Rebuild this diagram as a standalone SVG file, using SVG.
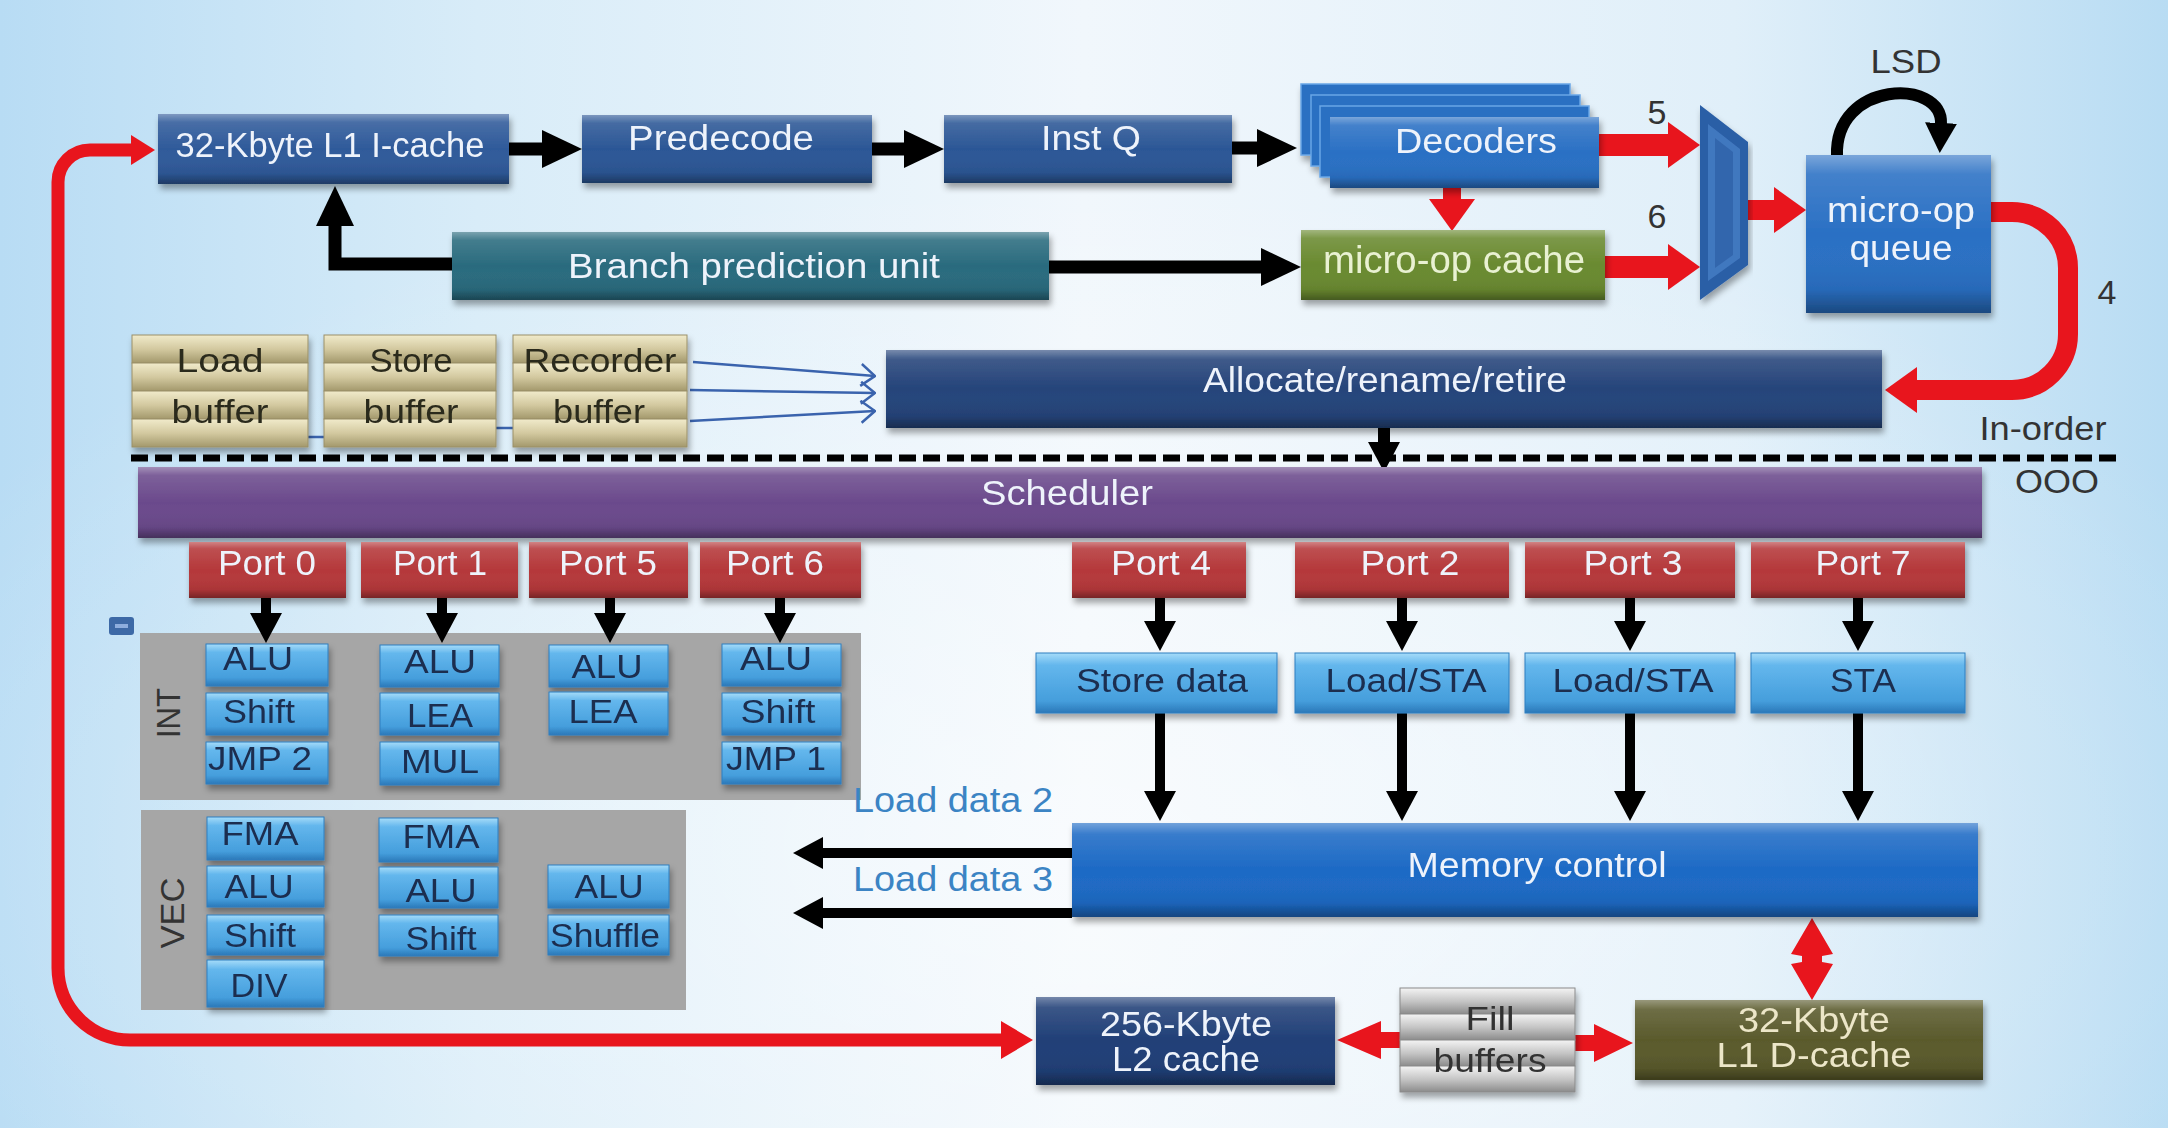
<svg xmlns="http://www.w3.org/2000/svg" width="2168" height="1128" viewBox="0 0 2168 1128">
<defs>
<style>
text{font-family:"Liberation Sans",Arial,Helvetica,sans-serif;}
.wt{fill:#eef3fb;text-anchor:middle;font-size:35px}
.cr{fill:#ece6c8;text-anchor:middle;font-size:35px}
.gt{fill:#e9f1d2;text-anchor:middle;font-size:38px}
.dk{fill:#1b2d50;text-anchor:middle;font-size:34px}
.bf{fill:#2b2a1c;text-anchor:middle;font-size:34px}
.lb{fill:#333;text-anchor:middle;font-size:34px}
.ld{fill:#3b84c4;font-size:35px}
.gl{fill:url(#gloss)}
.sh{filter:url(#shadow)}
.unit{fill:url(#unitG);stroke:#2f7fc0;stroke-width:1}
.port{fill:#b5383a}
.bar{fill:url(#tanG);stroke:#9a9068;stroke-width:1}
.gbar{fill:url(#grayG);stroke:#8a8a8a;stroke-width:1}
.panel{fill:#a6a6a6}
.bk{stroke:#000;fill:none;stroke-linejoin:miter}
.rd{stroke:#e8151d;fill:none}
.bl{stroke:#3a63ad;fill:none;stroke-width:2.5}
</style>
<linearGradient id="bgH" x1="0" y1="0" x2="1" y2="0">
<stop offset="0" stop-color="#b8dcf4"/>
<stop offset="0.22" stop-color="#d8ecf8"/>
<stop offset="0.5" stop-color="#f1f7fc"/>
<stop offset="0.8" stop-color="#e0eff9"/>
<stop offset="1" stop-color="#b8dcf3"/>
</linearGradient>
<radialGradient id="bgR" cx="0.5" cy="0.75" r="0.6">
<stop offset="0" stop-color="#ffffff" stop-opacity="0.55"/>
<stop offset="1" stop-color="#ffffff" stop-opacity="0"/>
</radialGradient>
<linearGradient id="gloss" x1="0" y1="0" x2="0" y2="1">
<stop offset="0" stop-color="#fff" stop-opacity="0.38"/>
<stop offset="0.12" stop-color="#fff" stop-opacity="0.12"/>
<stop offset="0.5" stop-color="#fff" stop-opacity="0"/>
<stop offset="0.85" stop-color="#000" stop-opacity="0.06"/>
<stop offset="1" stop-color="#000" stop-opacity="0.35"/>
</linearGradient>
<linearGradient id="unitG" x1="0" y1="0" x2="0" y2="1">
<stop offset="0" stop-color="#a6dcf9"/>
<stop offset="0.2" stop-color="#64b7ed"/>
<stop offset="0.8" stop-color="#459edc"/>
<stop offset="1" stop-color="#2b78b8"/>
</linearGradient>
<linearGradient id="tanG" x1="0" y1="0" x2="0" y2="1">
<stop offset="0" stop-color="#f1ebcb"/>
<stop offset="0.5" stop-color="#d3c9a0"/>
<stop offset="1" stop-color="#a3986c"/>
</linearGradient>
<linearGradient id="grayG" x1="0" y1="0" x2="0" y2="1">
<stop offset="0" stop-color="#f4f4f4"/>
<stop offset="0.5" stop-color="#c6c6c6"/>
<stop offset="1" stop-color="#8c8c8c"/>
</linearGradient>
<filter id="shadow" x="-10%" y="-20%" width="120%" height="150%">
<feDropShadow dx="2" dy="5" stdDeviation="3" flood-color="#000" flood-opacity="0.35"/>
</filter>
<marker id="ahB" viewBox="0 0 40 38" refX="1" refY="19" markerWidth="40" markerHeight="38" markerUnits="userSpaceOnUse" orient="auto"><path d="M0,0 L40,19 L0,38 z" fill="#000"/></marker>
<marker id="ahBs" viewBox="0 0 30 32" refX="1" refY="16" markerWidth="30" markerHeight="32" markerUnits="userSpaceOnUse" orient="auto"><path d="M0,0 L30,16 L0,32 z" fill="#000"/></marker>
<marker id="ahR" viewBox="0 0 32 46" refX="1" refY="23" markerWidth="32" markerHeight="46" markerUnits="userSpaceOnUse" orient="auto"><path d="M0,0 L32,23 L0,46 z" fill="#e8151d"/></marker>
<marker id="ahRm" viewBox="0 0 32 38" refX="1" refY="19" markerWidth="32" markerHeight="38" markerUnits="userSpaceOnUse" orient="auto-start-reverse"><path d="M0,0 L32,19 L0,38 z" fill="#e8151d"/></marker>
<marker id="ahRsm" viewBox="0 0 24 30" refX="1" refY="15" markerWidth="24" markerHeight="30" markerUnits="userSpaceOnUse" orient="auto"><path d="M0,0 L24,15 L0,30 z" fill="#e8151d"/></marker>
<marker id="ahBl" viewBox="0 0 16 24" refX="15" refY="12" markerWidth="16" markerHeight="24" markerUnits="userSpaceOnUse" orient="auto"><path d="M1,1 L15,12 L1,23" fill="none" stroke="#3a63ad" stroke-width="2.5"/></marker>
</defs>

<!-- background -->
<rect x="0" y="0" width="2168" height="1128" fill="url(#bgH)"/>
<rect x="0" y="0" width="2168" height="1128" fill="url(#bgR)"/>

<!-- gray panels -->
<g id="int-panel">
<rect class="panel" x="140" y="633" width="721" height="167"/>
<text class="lb" font-size="35" transform="translate(180,713) rotate(-90)" textLength="50" lengthAdjust="spacingAndGlyphs">INT</text>
</g>
<g id="vec-panel">
<rect class="panel" x="141" y="810" width="545" height="200"/>
<text class="lb" font-size="36" transform="translate(184,913) rotate(-90)" textLength="71" lengthAdjust="spacingAndGlyphs">VEC</text>
</g>
<g id="icon">
<rect x="109" y="617" width="25" height="18" rx="3" fill="#3d69a6"/>
<rect x="115" y="624" width="13" height="4" fill="#8eaede"/>
</g>

<!-- connectors -->
<g id="connectors">
<path class="bk" stroke-width="13" d="M509,149 L543,149" marker-end="url(#ahB)"/>
<path class="bk" stroke-width="13" d="M872,149 L905,149" marker-end="url(#ahB)"/>
<path class="bk" stroke-width="13" d="M1232,148 L1258,148" marker-end="url(#ahB)"/>
<path class="bk" stroke-width="13" d="M452,264 L335,264 L335,225" marker-end="url(#ahB)"/>
<path class="bk" stroke-width="13" d="M1049,267 L1262,267" marker-end="url(#ahB)"/>
<path class="rd" stroke-width="22" d="M1599,145 L1669,145" marker-end="url(#ahR)"/>
<path class="rd" stroke-width="22" d="M1605,267 L1669,267" marker-end="url(#ahR)"/>
<path class="rd" stroke-width="18" d="M1452,188 L1452,200" marker-end="url(#ahR)"/>
<path class="rd" stroke-width="20" d="M1748,210 L1775,210" marker-end="url(#ahR)"/>
<path class="rd" stroke-width="20" d="M1991,212 L2012,212 A56,56 0 0 1 2068,268 L2068,334 A56,56 0 0 1 2012,390 L1916,390" marker-end="url(#ahR)"/>
<path class="bk" stroke-width="12" d="M1837,156 C1834,80 1943,78 1941,124" marker-end="url(#ahBs)"/>
<path class="bl" d="M693,362 L875,376" marker-end="url(#ahBl)"/>
<path class="bl" d="M690,390 L875,393" marker-end="url(#ahBl)"/>
<path class="bl" d="M690,421 L875,411" marker-end="url(#ahBl)"/>
<path class="bl" d="M308,437 L324,437"/>
<path class="bl" d="M496,428 L513,428"/>
<path d="M131,458 L2122,458" stroke="#000" stroke-width="7" stroke-dasharray="17,7" fill="none"/>
<path class="bk" stroke-width="12" d="M1384,428 L1384,443" marker-end="url(#ahBs)"/>
<path class="bk" stroke-width="10" d="M266,598 L266,614" marker-end="url(#ahBs)"/>
<path class="bk" stroke-width="10" d="M442,598 L442,614" marker-end="url(#ahBs)"/>
<path class="bk" stroke-width="10" d="M610,598 L610,614" marker-end="url(#ahBs)"/>
<path class="bk" stroke-width="10" d="M780,598 L780,614" marker-end="url(#ahBs)"/>
<path class="bk" stroke-width="10" d="M1160,598 L1160,622" marker-end="url(#ahBs)"/>
<path class="bk" stroke-width="10" d="M1402,598 L1402,622" marker-end="url(#ahBs)"/>
<path class="bk" stroke-width="10" d="M1630,598 L1630,622" marker-end="url(#ahBs)"/>
<path class="bk" stroke-width="10" d="M1858,598 L1858,622" marker-end="url(#ahBs)"/>
<path class="bk" stroke-width="10" d="M1160,713 L1160,792" marker-end="url(#ahBs)"/>
<path class="bk" stroke-width="10" d="M1402,713 L1402,792" marker-end="url(#ahBs)"/>
<path class="bk" stroke-width="10" d="M1630,713 L1630,792" marker-end="url(#ahBs)"/>
<path class="bk" stroke-width="10" d="M1858,713 L1858,792" marker-end="url(#ahBs)"/>
<path class="bk" stroke-width="10" d="M1072,853 L822,853" marker-end="url(#ahBs)"/>
<path class="bk" stroke-width="10" d="M1072,913 L822,913" marker-end="url(#ahBs)"/>
<path class="rd" stroke-width="13" d="M1002,1040 L130,1040 A72,72 0 0 1 58,968 L58,182 A32,32 0 0 1 90,150 L132,150" marker-end="url(#ahRsm)" marker-start="url(#ahRm)"/>
<polygon fill="#e8151d" points="1337,1040 1381,1021 1381,1032 1400,1032 1400,1048 1381,1048 1381,1059"/>
<polygon fill="#e8151d" points="1633,1043 1594,1024 1594,1035 1575,1035 1575,1051 1594,1051 1594,1062"/>
<polygon fill="#e8151d" points="1812,918 1833,954 1822,956 1822,962 1833,964 1812,1000 1791,964 1802,962 1802,956 1791,954"/>
</g>

<!-- front end -->
<g id="l1-icache" class="sh">
<rect x="158" y="114" width="351" height="70" fill="#2f5a9a"/>
<rect class="gl" x="158" y="114" width="351" height="70"/>
<text class="wt" x="330" y="157" font-size="32" textLength="309" lengthAdjust="spacingAndGlyphs">32-Kbyte L1 I-cache</text>
</g>
<g id="predecode" class="sh">
<rect x="582" y="115" width="290" height="68" fill="#2c5796"/>
<rect class="gl" x="582" y="115" width="290" height="68"/>
<text class="wt" x="721" y="150" font-size="38" textLength="186" lengthAdjust="spacingAndGlyphs">Predecode</text>
</g>
<g id="inst-q" class="sh">
<rect x="944" y="115" width="288" height="68" fill="#2c5796"/>
<rect class="gl" x="944" y="115" width="288" height="68"/>
<text class="wt" x="1091" y="150" font-size="38" textLength="100" lengthAdjust="spacingAndGlyphs">Inst Q</text>
</g>
<g id="decoders" class="sh">
<rect x="1301" y="84" width="269" height="71" fill="#2a6fc2" stroke="#6aa6e6" stroke-width="1.5"/>
<rect x="1311" y="95" width="269" height="71" fill="#2a6fc2" stroke="#6aa6e6" stroke-width="1.5"/>
<rect x="1320" y="106" width="269" height="71" fill="#2a6fc2" stroke="#6aa6e6" stroke-width="1.5"/>
<rect x="1330" y="117" width="269" height="71" fill="#2a70c4"/>
<rect class="gl" x="1330" y="117" width="269" height="71"/>
<text class="wt" x="1476" y="153" font-size="36" fill="#dfeefc" textLength="162" lengthAdjust="spacingAndGlyphs">Decoders</text>
</g>
<g id="branch-prediction" class="sh">
<rect x="452" y="232" width="597" height="68" fill="#2a6b7e"/>
<rect class="gl" x="452" y="232" width="597" height="68"/>
<text class="wt" x="754" y="278" font-size="35" textLength="372" lengthAdjust="spacingAndGlyphs">Branch prediction unit</text>
</g>
<g id="micro-op-cache" class="sh">
<rect x="1301" y="230" width="304" height="70" fill="#6a8a30"/>
<rect class="gl" x="1301" y="230" width="304" height="70"/>
<text class="gt" x="1454" y="273" textLength="262" lengthAdjust="spacingAndGlyphs">micro-op cache</text>
</g>
<g id="mux" class="sh">
<polygon points="1700,105 1748,142 1748,265 1700,300" fill="#2a5ea6"/>
<polygon points="1708,124 1740,149 1740,258 1708,281" fill="#4178bf"/>
<polygon points="1715,138 1733,152 1733,255 1715,268" fill="#3366ad"/>
</g>
<g id="micro-op-queue" class="sh">
<rect x="1806" y="155" width="185" height="158" fill="#2a70c4"/>
<rect class="gl" x="1806" y="155" width="185" height="158"/>
<text class="wt" x="1901" y="222" font-size="38" textLength="148" lengthAdjust="spacingAndGlyphs">micro-op</text>
<text class="wt" x="1901" y="260" font-size="38" textLength="103" lengthAdjust="spacingAndGlyphs">queue</text>
</g>
<g id="labels-top">
<text class="lb" x="1906" y="73" font-size="32" textLength="71" lengthAdjust="spacingAndGlyphs">LSD</text>
<text class="lb" x="1657" y="124" font-size="32">5</text>
<text class="lb" x="1657" y="228" font-size="32">6</text>
<text class="lb" x="2107" y="304" font-size="34">4</text>
<text class="lb" x="2043" y="440" font-size="35" textLength="127" lengthAdjust="spacingAndGlyphs">In-order</text>
<text class="lb" x="2057" y="493" font-size="35" textLength="84" lengthAdjust="spacingAndGlyphs">OOO</text>
</g>

<!-- buffers -->
<g id="load-buffer" class="sh">
<rect class="bar" x="132" y="335" width="176" height="28"/>
<rect class="bar" x="132" y="363" width="176" height="28"/>
<rect class="bar" x="132" y="391" width="176" height="28"/>
<rect class="bar" x="132" y="419" width="176" height="28"/>
<text class="bf" x="220" y="372" textLength="87" lengthAdjust="spacingAndGlyphs">Load</text>
<text class="bf" x="220" y="423" textLength="97" lengthAdjust="spacingAndGlyphs">buffer</text>
</g>
<g id="store-buffer" class="sh">
<rect class="bar" x="324" y="335" width="172" height="28"/>
<rect class="bar" x="324" y="363" width="172" height="28"/>
<rect class="bar" x="324" y="391" width="172" height="28"/>
<rect class="bar" x="324" y="419" width="172" height="28"/>
<text class="bf" x="411" y="372" textLength="83" lengthAdjust="spacingAndGlyphs">Store</text>
<text class="bf" x="411" y="423" textLength="95" lengthAdjust="spacingAndGlyphs">buffer</text>
</g>
<g id="recorder-buffer" class="sh">
<rect class="bar" x="513" y="335" width="174" height="28"/>
<rect class="bar" x="513" y="363" width="174" height="28"/>
<rect class="bar" x="513" y="391" width="174" height="28"/>
<rect class="bar" x="513" y="419" width="174" height="28"/>
<text class="bf" x="600" y="372" textLength="153" lengthAdjust="spacingAndGlyphs">Recorder</text>
<text class="bf" x="599" y="423" textLength="92" lengthAdjust="spacingAndGlyphs">buffer</text>
</g>

<g id="allocate" class="sh">
<rect x="886" y="350" width="996" height="78" fill="#25447a"/>
<rect class="gl" x="886" y="350" width="996" height="78"/>
<text class="wt" x="1385" y="392" font-size="37" textLength="364" lengthAdjust="spacingAndGlyphs">Allocate/rename/retire</text>
</g>
<g id="scheduler" class="sh">
<rect x="138" y="467" width="1844" height="71" fill="#6b4a8c"/>
<rect class="gl" x="138" y="467" width="1844" height="71"/>
<text class="wt" x="1067" y="505" font-size="34" fill="#e6e0f0" textLength="172" lengthAdjust="spacingAndGlyphs">Scheduler</text>
</g>

<!-- ports -->
<g id="port0" class="sh"><rect class="port" x="189" y="542" width="157" height="56"/><rect class="gl" x="189" y="542" width="157" height="56"/><text class="wt" x="267" y="575" font-size="34" textLength="98" lengthAdjust="spacingAndGlyphs">Port 0</text></g>
<g id="port1" class="sh"><rect class="port" x="361" y="542" width="157" height="56"/><rect class="gl" x="361" y="542" width="157" height="56"/><text class="wt" x="440" y="575" font-size="34" textLength="94" lengthAdjust="spacingAndGlyphs">Port 1</text></g>
<g id="port5" class="sh"><rect class="port" x="529" y="542" width="159" height="56"/><rect class="gl" x="529" y="542" width="159" height="56"/><text class="wt" x="608" y="575" font-size="34" textLength="98" lengthAdjust="spacingAndGlyphs">Port 5</text></g>
<g id="port6" class="sh"><rect class="port" x="700" y="542" width="161" height="56"/><rect class="gl" x="700" y="542" width="161" height="56"/><text class="wt" x="775" y="575" font-size="34" textLength="98" lengthAdjust="spacingAndGlyphs">Port 6</text></g>
<g id="port4" class="sh"><rect class="port" x="1072" y="542" width="174" height="56"/><rect class="gl" x="1072" y="542" width="174" height="56"/><text class="wt" x="1161" y="575" font-size="34" textLength="100" lengthAdjust="spacingAndGlyphs">Port 4</text></g>
<g id="port2" class="sh"><rect class="port" x="1295" y="542" width="214" height="56"/><rect class="gl" x="1295" y="542" width="214" height="56"/><text class="wt" x="1410" y="575" font-size="34" textLength="99" lengthAdjust="spacingAndGlyphs">Port 2</text></g>
<g id="port3" class="sh"><rect class="port" x="1525" y="542" width="210" height="56"/><rect class="gl" x="1525" y="542" width="210" height="56"/><text class="wt" x="1633" y="575" font-size="34" textLength="99" lengthAdjust="spacingAndGlyphs">Port 3</text></g>
<g id="port7" class="sh"><rect class="port" x="1751" y="542" width="214" height="56"/><rect class="gl" x="1751" y="542" width="214" height="56"/><text class="wt" x="1863" y="575" font-size="34" textLength="95" lengthAdjust="spacingAndGlyphs">Port 7</text></g>

<!-- INT units -->
<g id="int-port0" class="sh">
<rect class="unit" x="206" y="644" width="122" height="42"/><text class="dk" x="258" y="670" textLength="70" lengthAdjust="spacingAndGlyphs">ALU</text>
<rect class="unit" x="206" y="693" width="122" height="42"/><text class="dk" x="259" y="723" textLength="72" lengthAdjust="spacingAndGlyphs">Shift</text>
<rect class="unit" x="206" y="742" width="122" height="42"/><text class="dk" x="260" y="770" textLength="104" lengthAdjust="spacingAndGlyphs">JMP 2</text>
</g>
<g id="int-port1" class="sh">
<rect class="unit" x="380" y="645" width="119" height="42"/><text class="dk" x="440" y="673" textLength="72" lengthAdjust="spacingAndGlyphs">ALU</text>
<rect class="unit" x="380" y="693" width="119" height="42"/><text class="dk" x="440" y="727" textLength="66" lengthAdjust="spacingAndGlyphs">LEA</text>
<rect class="unit" x="380" y="742" width="119" height="43"/><text class="dk" x="440" y="773" textLength="78" lengthAdjust="spacingAndGlyphs">MUL</text>
</g>
<g id="int-port5" class="sh">
<rect class="unit" x="549" y="645" width="119" height="42"/><text class="dk" x="607" y="678" textLength="71" lengthAdjust="spacingAndGlyphs">ALU</text>
<rect class="unit" x="549" y="692" width="119" height="43"/><text class="dk" x="603" y="723" textLength="69" lengthAdjust="spacingAndGlyphs">LEA</text>
</g>
<g id="int-port6" class="sh">
<rect class="unit" x="722" y="644" width="119" height="42"/><text class="dk" x="776" y="670" textLength="72" lengthAdjust="spacingAndGlyphs">ALU</text>
<rect class="unit" x="722" y="693" width="119" height="42"/><text class="dk" x="778" y="723" textLength="75" lengthAdjust="spacingAndGlyphs">Shift</text>
<rect class="unit" x="722" y="742" width="119" height="42"/><text class="dk" x="776" y="770" textLength="100" lengthAdjust="spacingAndGlyphs">JMP 1</text>
</g>

<!-- VEC units -->
<g id="vec-port0" class="sh">
<rect class="unit" x="207" y="817" width="117" height="43"/><text class="dk" x="260" y="845" font-size="32" textLength="77" lengthAdjust="spacingAndGlyphs">FMA</text>
<rect class="unit" x="207" y="866" width="117" height="41"/><text class="dk" x="259" y="898" font-size="32" textLength="69" lengthAdjust="spacingAndGlyphs">ALU</text>
<rect class="unit" x="207" y="915" width="117" height="40"/><text class="dk" x="260" y="947" font-size="32" textLength="72" lengthAdjust="spacingAndGlyphs">Shift</text>
<rect class="unit" x="207" y="960" width="117" height="47"/><text class="dk" x="259" y="997" font-size="32" textLength="57" lengthAdjust="spacingAndGlyphs">DIV</text>
</g>
<g id="vec-port1" class="sh">
<rect class="unit" x="379" y="818" width="119" height="44"/><text class="dk" x="441" y="848" font-size="32" textLength="77" lengthAdjust="spacingAndGlyphs">FMA</text>
<rect class="unit" x="379" y="867" width="119" height="41"/><text class="dk" x="441" y="902" font-size="32" textLength="71" lengthAdjust="spacingAndGlyphs">ALU</text>
<rect class="unit" x="379" y="915" width="119" height="41"/><text class="dk" x="441" y="950" font-size="32" textLength="71" lengthAdjust="spacingAndGlyphs">Shift</text>
</g>
<g id="vec-port5" class="sh">
<rect class="unit" x="548" y="865" width="121" height="43"/><text class="dk" x="609" y="898" font-size="32" textLength="69" lengthAdjust="spacingAndGlyphs">ALU</text>
<rect class="unit" x="548" y="915" width="121" height="40"/><text class="dk" x="605" y="947" font-size="32" textLength="110" lengthAdjust="spacingAndGlyphs">Shuffle</text>
</g>

<!-- memory units -->
<g id="store-data" class="sh"><rect class="unit" x="1036" y="653" width="241" height="60"/><text class="dk" x="1162" y="692" font-size="36" textLength="172" lengthAdjust="spacingAndGlyphs">Store data</text></g>
<g id="load-sta-2" class="sh"><rect class="unit" x="1295" y="653" width="214" height="60"/><text class="dk" x="1406" y="692" font-size="36" textLength="161" lengthAdjust="spacingAndGlyphs">Load/STA</text></g>
<g id="load-sta-3" class="sh"><rect class="unit" x="1525" y="653" width="210" height="60"/><text class="dk" x="1633" y="692" font-size="36" textLength="161" lengthAdjust="spacingAndGlyphs">Load/STA</text></g>
<g id="sta" class="sh"><rect class="unit" x="1751" y="653" width="214" height="60"/><text class="dk" x="1863" y="692" font-size="36" textLength="66" lengthAdjust="spacingAndGlyphs">STA</text></g>

<g id="memory-control" class="sh">
<rect x="1072" y="823" width="906" height="94" fill="#1d6ac5"/>
<rect class="gl" x="1072" y="823" width="906" height="94"/>
<text class="wt" x="1537" y="877" font-size="35" textLength="259" lengthAdjust="spacingAndGlyphs">Memory control</text>
</g>
<g id="load-data-labels">
<text class="ld" x="853" y="812" textLength="200" lengthAdjust="spacingAndGlyphs">Load data 2</text>
<text class="ld" x="853" y="891" textLength="200" lengthAdjust="spacingAndGlyphs">Load data 3</text>
</g>

<g id="l2-cache" class="sh">
<rect x="1036" y="997" width="299" height="88" fill="#203f77"/>
<rect class="gl" x="1036" y="997" width="299" height="88"/>
<text class="wt" x="1186" y="1036" font-size="35" textLength="172" lengthAdjust="spacingAndGlyphs">256-Kbyte</text>
<text class="wt" x="1186" y="1071" font-size="35" textLength="148" lengthAdjust="spacingAndGlyphs">L2 cache</text>
</g>
<g id="fill-buffers" class="sh">
<rect class="gbar" x="1400" y="988" width="175" height="26"/>
<rect class="gbar" x="1400" y="1014" width="175" height="26"/>
<rect class="gbar" x="1400" y="1040" width="175" height="26"/>
<rect class="gbar" x="1400" y="1066" width="175" height="26"/>
<text class="lb" x="1490" y="1030" textLength="49" lengthAdjust="spacingAndGlyphs">Fill</text>
<text class="lb" x="1490" y="1072" textLength="113" lengthAdjust="spacingAndGlyphs">buffers</text>
</g>
<g id="l1-dcache" class="sh">
<rect x="1635" y="1000" width="348" height="80" fill="#5a5a2c"/>
<rect class="gl" x="1635" y="1000" width="348" height="80"/>
<text class="cr" x="1814" y="1032" textLength="152" lengthAdjust="spacingAndGlyphs">32-Kbyte</text>
<text class="cr" x="1814" y="1067" textLength="195" lengthAdjust="spacingAndGlyphs">L1 D-cache</text>
</g>
</svg>
